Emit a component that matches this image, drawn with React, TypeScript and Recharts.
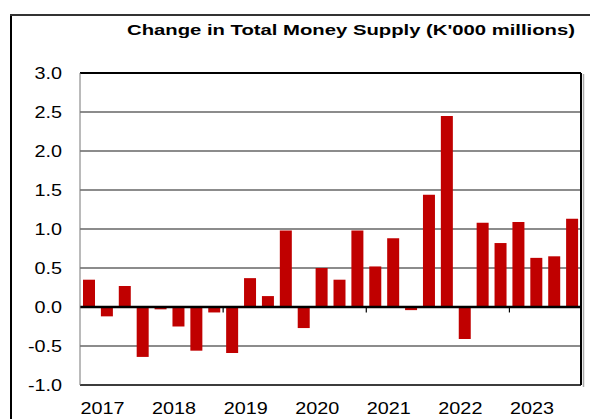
import React from "react";
import { BarChart, Bar, XAxis, YAxis, CartesianGrid, ReferenceLine } from "recharts";

const years = ["2017", "2018", "2019", "2020", "2021", "2022", "2023"];
const quarters = ["Q1", "Q2", "Q3", "Q4"];
const changes = [
  0.35, -0.12, 0.27, -0.64,
  -0.03, -0.25, -0.56, -0.07,
  -0.59, 0.37, 0.14, 0.98,
  -0.27, 0.5, 0.35, 0.98,
  0.52, 0.88, -0.04, 1.44,
  2.45, -0.41, 1.08, 0.82,
  1.09, 0.63, 0.65, 1.13,
];
const yTicks = [-1, -0.5, 0, 0.5, 1, 1.5, 2, 2.5, 3];
const zeroTickPeriods = ["2019Q1", "2021Q1", "2023Q1"];
const title = "Change in Total Money Supply (K'000 millions)";

const data = changes.map((v, i) => ({
  period: years[Math.floor(i / 4)] + quarters[i % 4],
  value: v,
}));

const FONT = "'Liberation Sans', Arial, Helvetica, sans-serif";
const W = 590;
const H = 419;

const YTick = (props: any) => {
  const { x, y, payload } = props;
  return (
    <g transform={`translate(${x},${y})`}>
      <text
        transform="scale(1.2,1)"
        x={0}
        y={0}
        dy="0.36em"
        textAnchor="end"
        fontSize={16.5}
        fontFamily={FONT}
        fill="#000"
      >
        {Number(payload.value).toFixed(1)}
      </text>
    </g>
  );
};

const XTick = (props: any) => {
  const { x, y, payload } = props;
  const label = String(payload.value);
  if (!label.endsWith("Q1")) return <g />;
  const half = payload.offset ? payload.offset : 501 / 28 / 2;
  return (
    <g transform={`translate(${x - half + 0.5},${y + 29})`}>
      <text
        transform="scale(1.2,1)"
        x={0}
        y={0}
        textAnchor="start"
        fontSize={16.5}
        fontFamily={FONT}
        fill="#000"
      >
        {label.slice(0, 4)}
      </text>
    </g>
  );
};

export default function App() {
  return (
    <div style={{ position: "absolute", left: 0, top: 0, width: W, height: H, background: "#fff" }}>
      <svg width={W} height={H} style={{ position: "absolute", left: 0, top: 0 }}>
        <line x1={11} y1={14} x2={11} y2={H} stroke="#000" strokeWidth={2} />
        <line x1={10} y1={15} x2={W} y2={15} stroke="#333" strokeWidth={2} />
        <text
          x={127}
          y={34.5}
          textLength={448}
          lengthAdjust="spacingAndGlyphs"
          fontSize={15.5}
          fontWeight="bold"
          fontFamily={FONT}
          fill="#000"
        >
          {title}
        </text>
        <line x1={583.5} y1={74} x2={583.5} y2={387} stroke="#aaa" strokeWidth={1.5} />
      </svg>
      <div style={{ position: "absolute", left: 0, top: 0 }}>
        <BarChart
          width={W}
          height={H}
          data={data}
          margin={{ top: 73, right: 0, left: 0, bottom: 0 }}
          barSize={12}
        >
          <CartesianGrid vertical={false} horizontal stroke="#1a1a1a" strokeWidth={1.2} />
          <XAxis
            dataKey="period"
            interval={0}
            height={34}
            tickSize={0}
            tickMargin={0}
            tickLine={false}
            axisLine={{ stroke: "#222", strokeWidth: 1.5 }}
            tick={<XTick />}
          />
          <YAxis
            domain={[-1, 3]}
            ticks={yTicks}
            width={80}
            tickSize={0}
            tickMargin={18}
            tickLine={false}
            axisLine={{ stroke: "#777", strokeWidth: 1 }}
            tick={<YTick />}
            interval={0}
          />
          <YAxis
            yAxisId="r"
            orientation="right"
            domain={[-1, 3]}
            width={9}
            tick={false}
            tickLine={false}
            axisLine={{ stroke: "#000", strokeWidth: 2 }}
          />
          <Bar dataKey="value" fill="#C00000" isAnimationActive={false} />
          <ReferenceLine y={3} stroke="#000" strokeWidth={2} />
          <ReferenceLine y={0} stroke="#000" strokeWidth={2.5} />
          {zeroTickPeriods.map((p) => (
            <ReferenceLine
              key={p}
              segment={[
                { x: p, y: 0 },
                { x: p, y: -0.07 },
              ]}
              position="start"
              stroke="#000"
              strokeWidth={1.2}
            />
          ))}
        </BarChart>
      </div>
    </div>
  );
}
